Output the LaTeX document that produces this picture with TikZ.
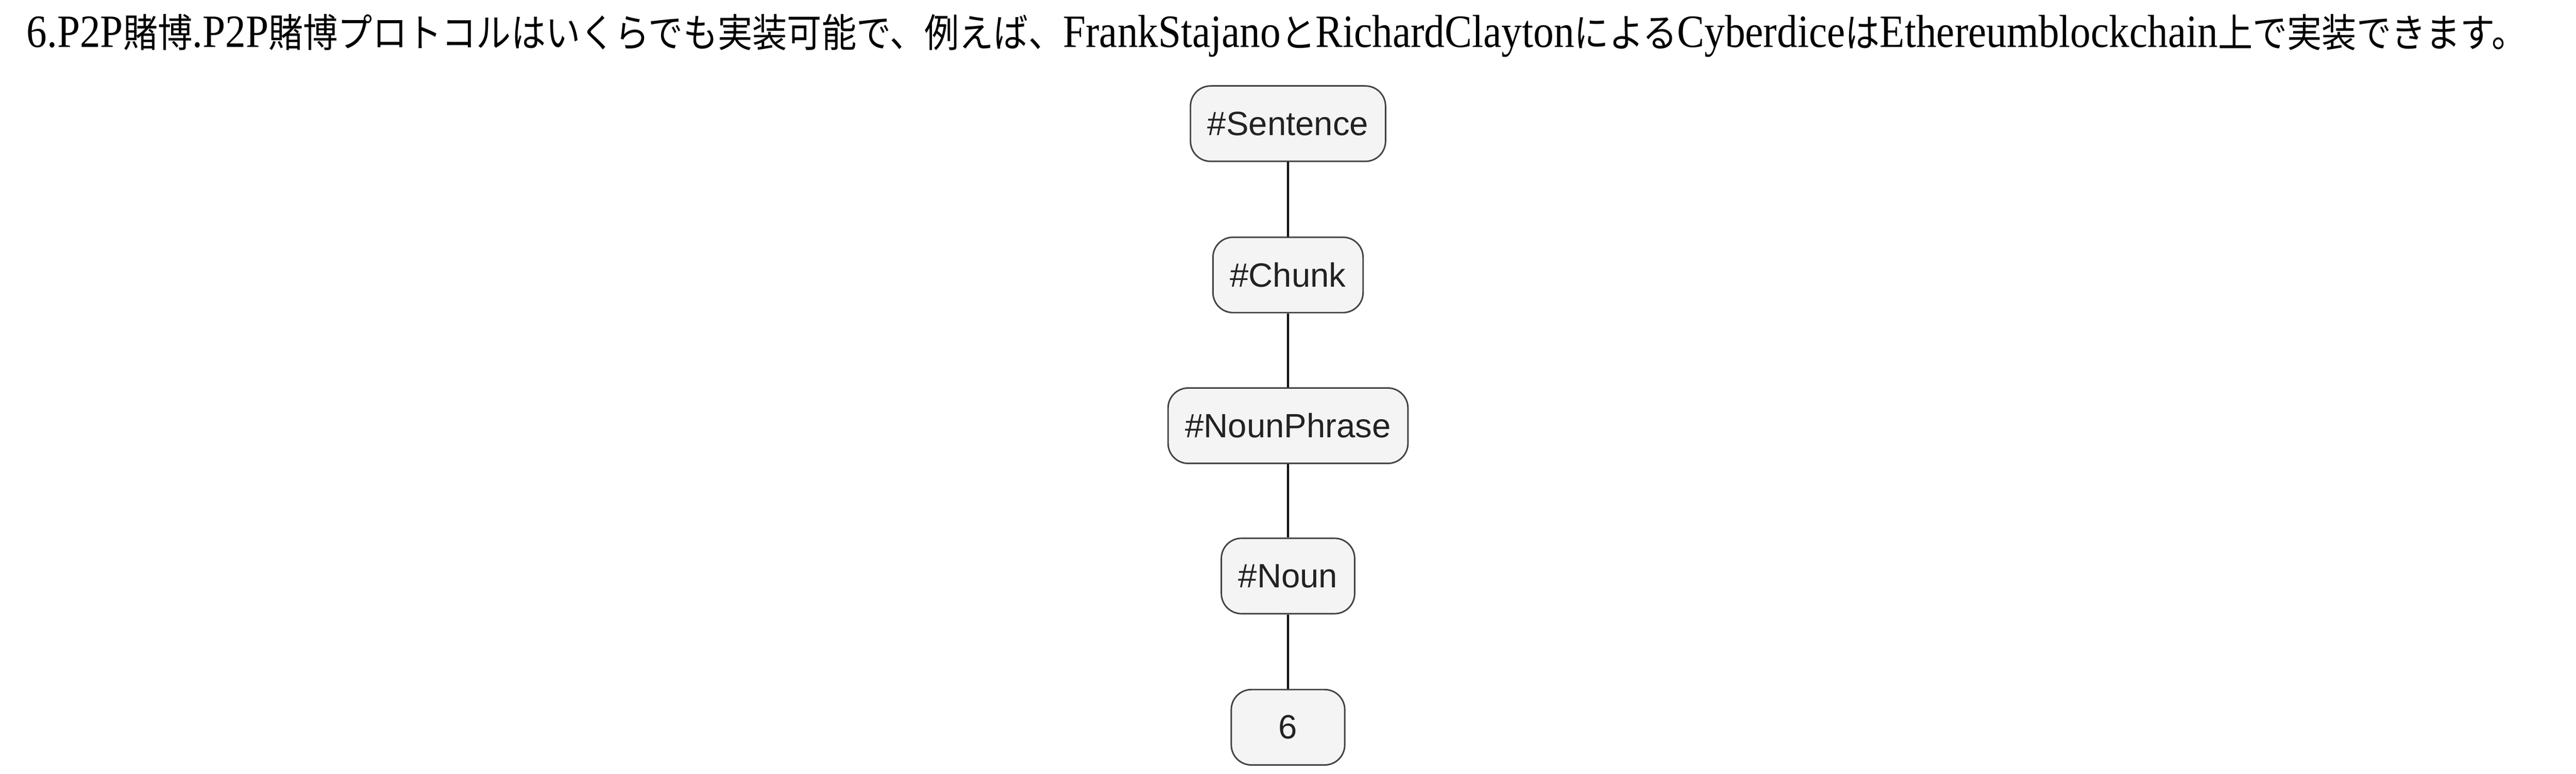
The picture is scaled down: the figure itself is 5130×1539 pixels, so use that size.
\documentclass[tikz,border=0pt]{standalone}
\usepackage{fontspec}
\usepackage{tikz}
\setmainfont{Liberation Serif}
\newfontfamily\jpfont{Noto Sans CJK JP}
\newfontfamily\tagfont{Liberation Sans}
\newcommand{\jp}[1]{{\jpfont\fontsize{15.6pt}{18pt}\selectfont #1}}

\begin{document}
\begin{tikzpicture}[x=0.2pt,y=0.2pt,yscale=-1,xscale=1,
  tagbox/.style={draw={rgb, 255:red, 66; green, 66; blue, 66 },line width=0.6pt,
    fill={rgb, 255:red, 244; green, 244; blue, 244 },rounded corners=8pt,
    text={rgb, 255:red, 34; green, 34; blue, 34 },font=\tagfont\fontsize{13.4pt}{16pt}\selectfont,
    inner xsep=6.8pt,inner ysep=0pt,minimum height=30pt,minimum width=45.2pt},
  edge/.style={draw=black,line width=0.75pt}]
%set diagram left start at 0, and has height of 1539
\useasboundingbox (0,0) rectangle (5130,1539);

% Text Node
\draw (52,94) node [anchor=base west,inner sep=0pt] (title) {\resizebox{995.6pt}{\height}{\fontsize{18.4pt}{22pt}\selectfont 6.P2P\jp{賭博}.P2P\jp{賭博プロトコルはいくらでも実装可能で、例えば、}FrankStajano\jp{と}RichardClayton\jp{による}Cyberdice\jp{は}Ethereumblockchain\jp{上で実装できます。}}};

% Tag Nodes
\draw (2565,246) node [tagbox] (sent) {\#Sentence};
\draw (2565,547) node [tagbox] (chunk) {\#Chunk};
\draw (2565,847) node [tagbox] (nphr) {\#NounPhrase};
\draw (2565,1146) node [tagbox] (noun) {\#Noun};
\draw (2565,1447) node [tagbox] (word) {6};

%Straight Lines
\draw [edge] (sent) -- (chunk);
%Straight Lines
\draw [edge] (chunk) -- (nphr);
%Straight Lines
\draw [edge] (nphr) -- (noun);
%Straight Lines
\draw [edge] (noun) -- (word);

\end{tikzpicture}
\end{document}
